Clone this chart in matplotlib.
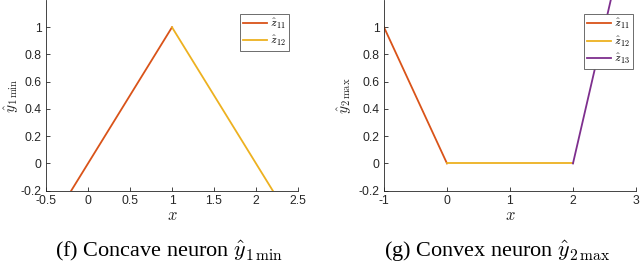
import matplotlib
matplotlib.use('Agg')
import matplotlib.pyplot as plt
from matplotlib.ticker import FuncFormatter

plt.rcParams['mathtext.fontset'] = 'cm'
plt.rcParams['font.family'] = ['Liberation Sans', 'DejaVu Sans']
plt.rcParams['axes.unicode_minus'] = False

# left panel: concave neuron
concave_z11_x = [-0.2, 1.0]
concave_z11_y = [-0.2, 1.0]
concave_z12_x = [1.0, 2.2]
concave_z12_y = [1.0, -0.2]

# right panel: convex neuron
convex_z11_x = [-1.0, 0.0]
convex_z11_y = [1.0, 0.0]
convex_z12_x = [0.0, 2.0]
convex_z12_y = [0.0, 0.0]
convex_z13_x = [2.0, 3.0]
convex_z13_y = [0.0, 2.0]

left_xticks = [-0.5, 0, 0.5, 1, 1.5, 2, 2.5]
right_xticks = [-1, 0, 1, 2, 3]
yticks = [-0.2, 0, 0.2, 0.4, 0.6, 0.8, 1]

C1 = '#D95319'
C2 = '#EDB120'
C3 = '#7E2F8E'
AX = '#262626'

fig = plt.figure(figsize=(6.4, 2.63), dpi=100)
ax1 = fig.add_axes([0.0719, 0.2749, 0.3937, 0.7251])
ax2 = fig.add_axes([0.6, 0.2749, 0.3937, 0.7251])

fmt = FuncFormatter(lambda v, p: '%g' % v)


def style(ax, xlim, xticks, ylabel, ylab_x):
    ax.set_xlim(*xlim)
    ax.set_ylim(-0.2, 1.2)
    ax.set_xticks(xticks)
    ax.set_yticks(yticks)
    ax.xaxis.set_major_formatter(fmt)
    ax.yaxis.set_major_formatter(fmt)
    for s in ['top', 'right']:
        ax.spines[s].set_visible(False)
    for s in ['left', 'bottom']:
        ax.spines[s].set_color(AX)
        ax.spines[s].set_linewidth(0.6)
    ax.tick_params(direction='in', length=3, width=0.6, colors=AX,
                   labelsize=8.7, pad=3)
    ax.set_xlabel(r'$x$', fontsize=12, color=AX, labelpad=1)
    ax.set_ylabel(ylabel, fontsize=11, color=AX)
    ax.yaxis.set_label_coords(ylab_x, 0.5)


ax1.plot(concave_z11_x, concave_z11_y, color=C1, lw=1.3, label=r'$\hat{z}_{11}$')
ax1.plot(concave_z12_x, concave_z12_y, color=C2, lw=1.3, label=r'$\hat{z}_{12}$')
style(ax1, (-0.5, 2.5), left_xticks, r'$\hat{y}_{1\,\min}$', -0.098)

ax2.plot(convex_z11_x, convex_z11_y, color=C1, lw=1.3, label=r'$\hat{z}_{11}$')
ax2.plot(convex_z12_x, convex_z12_y, color=C2, lw=1.3, label=r'$\hat{z}_{12}$')
ax2.plot(convex_z13_x, convex_z13_y, color=C3, lw=1.3, label=r'$\hat{z}_{13}$')
style(ax2, (-1, 3), right_xticks, r'$\hat{y}_{2\,\max}$', -0.12)

for ax, loc in [(ax1, (0.77, 0.927)), (ax2, (0.794, 0.925))]:
    leg = ax.legend(loc='upper left', bbox_to_anchor=loc, fontsize=8.5,
                    handlelength=2.0, handletextpad=0.3, borderpad=0.25,
                    labelspacing=0.25, fancybox=False, framealpha=1,
                    borderaxespad=0)
    leg.get_frame().set_edgecolor('#555555')
    leg.get_frame().set_linewidth(0.6)

fig.text(0.264, 0.046, r'(f) Concave neuron $\hat{y}_{1\,\min}$',
         ha='center', va='center', fontsize=16, family='Liberation Serif')
fig.text(0.777, 0.046, r'(g) Convex neuron $\hat{y}_{2\,\max}$',
         ha='center', va='center', fontsize=16, family='Liberation Serif')

fig.savefig('out.png', dpi=100)
